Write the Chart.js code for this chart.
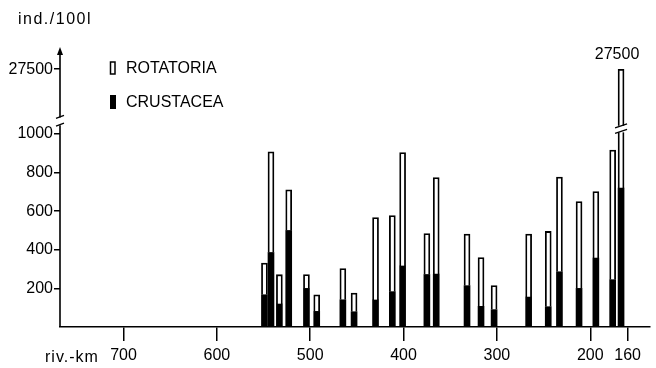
<!DOCTYPE html>
<html>
<head>
<meta charset="utf-8">
<script src="https://cdn.jsdelivr.net/npm/chart.js@4.4.1/dist/chart.umd.min.js"></script>
<style>
  html, body { margin: 0; padding: 0; background: #fff; }
  #wrap { width: 656px; height: 368px; position: relative; }
</style>
</head>
<body>
<div id="wrap"><canvas id="c" width="656" height="368"></canvas></div>
<script>
// ---- data ----
const riverKm   = [549, 542, 533, 523, 504, 493, 465, 453, 430, 412, 401, 375, 365, 332, 317, 303, 266, 245, 233, 212, 194, 176, 167];
const crustacea = [167, 386, 119, 500, 200,  81, 141,  79, 140, 183, 316, 272, 274, 214, 107,  90, 155, 105, 286, 200, 357, 245, 719];
const rotatoria = [164, 521, 152, 210,  72,  86, 162,  97, 427, 394, 587, 212, 500, 267, 253, 125, 326, 390, 490, 450, 344, 671, 26781];
const xTickValues = [700, 600, 500, 400, 300, 200, 160];
const yTickValues = [200, 400, 600, 800, 1000, 27500];
const seriesNames = ['ROTATORIA', 'CRUSTACEA'];

// ---- broken y axis: values above 1000 are compressed ----
const BREAK_LOW = 1000, BREAK_GAP = 50, TOP_VALUE = 27500, TOP_DISPLAY = 1335;
function toDisplay(v) {
  if (v <= BREAK_LOW) return v;
  return BREAK_LOW + BREAK_GAP + (v - BREAK_LOW) / (TOP_VALUE - BREAK_LOW) * (TOP_DISPLAY - BREAK_LOW - BREAK_GAP);
}

const FONT = "'Liberation Sans', Arial, sans-serif";
const FS = 16;

const crustData = riverKm.map((k, i) => ({ x: k, y: [0, crustacea[i]] }));
const rotData = riverKm.map((k, i) => ({ x: k, y: [crustacea[i], toDisplay(crustacea[i] + rotatoria[i])] }));

const decor = {
  id: 'decor',
  afterDraw(chart) {
    const ctx = chart.ctx;
    const xs = chart.scales.x, ys = chart.scales.y;
    const ax = xs.left;
    ctx.save();
    ctx.strokeStyle = '#000';
    ctx.fillStyle = '#000';
    ctx.lineWidth = 1.6;
    // y axis segments
    const y0 = ys.getPixelForValue(0);
    const yb1 = ys.getPixelForValue(BREAK_LOW + 45);
    const yb2 = ys.getPixelForValue(BREAK_LOW + 85);
    const yTop = ys.top;
    ctx.beginPath();
    ctx.moveTo(ax, y0); ctx.lineTo(ax, yb1);
    ctx.moveTo(ax, yb2); ctx.lineTo(ax, yTop + 6);
    ctx.stroke();
    // break slashes on axis
    ctx.lineWidth = 1.3;
    ctx.beginPath();
    ctx.moveTo(ax - 4, yb1 + 1); ctx.lineTo(ax + 4, yb1 - 2);
    ctx.moveTo(ax - 4, yb2 + 1); ctx.lineTo(ax + 4, yb2 - 2);
    ctx.stroke();
    // arrow head
    ctx.beginPath();
    ctx.moveTo(ax, yTop);
    ctx.lineTo(ax - 3, yTop + 8);
    ctx.lineTo(ax + 3, yTop + 8);
    ctx.closePath();
    ctx.fill();

    // break on the tallest bar
    const meta = chart.getDatasetMeta(0);
    const last = meta.data[meta.data.length - 1];
    const bx = last.x, bw = 6;
    const bb1 = ys.getPixelForValue(BREAK_LOW + 8);
    const bb2 = ys.getPixelForValue(BREAK_LOW + 42);
    ctx.fillStyle = '#fff';
    ctx.fillRect(bx - bw / 2 - 2, bb2, bw + 4, bb1 - bb2);
    ctx.strokeStyle = '#000';
    ctx.lineWidth = 1.3;
    ctx.beginPath();
    ctx.moveTo(bx - 6, bb1 + 1); ctx.lineTo(bx + 6, bb1 - 3);
    ctx.moveTo(bx - 6, bb2 + 2); ctx.lineTo(bx + 6, bb2 - 2);
    ctx.stroke();

    // value label above tallest bar
    ctx.fillStyle = '#000';
    ctx.font = FS + 'px ' + FONT;
    ctx.textAlign = 'center';
    ctx.textBaseline = 'middle';
    ctx.fillText(String(TOP_VALUE), bx - 4, last.y - 15);

    // unit title
    ctx.textAlign = 'left';
    try { ctx.letterSpacing = '1.5px'; } catch (e) {}
    ctx.fillText('ind./100l', 18, 20);

    // x axis name
    try { ctx.letterSpacing = '1px'; } catch (e) {}
    ctx.fillText('riv.-km', 45, xs.bottom - 10);
    try { ctx.letterSpacing = '0px'; } catch (e) {}

    // legend
    const lx = 110;
    const ly1 = 68, ly2 = 102;
    ctx.lineWidth = 1.5;
    ctx.strokeRect(lx + 0.5, ly1 - 6, 4.5, 12);
    ctx.fillRect(lx, ly2 - 7, 6, 14);
    ctx.fillText(seriesNames[0], 126, ly1 + 1);
    ctx.fillText(seriesNames[1], 126, ly2 + 1);
    ctx.restore();
  }
};

new Chart(document.getElementById('c'), {
  type: 'bar',
  data: {
    datasets: [
      {
        label: seriesNames[0],
        data: rotData,
        backgroundColor: '#fff',
        borderColor: '#000',
        borderWidth: { top: 1.8, left: 1.8, right: 1.8, bottom: 0 },
        borderSkipped: false,
        barThickness: 6,
        grouped: false,
        order: 2
      },
      {
        label: seriesNames[1],
        data: crustData,
        backgroundColor: '#000',
        borderWidth: 0,
        barThickness: 6,
        grouped: false,
        order: 1
      }
    ]
  },
  plugins: [decor],
  options: {
    responsive: false,
    animation: false,
    layout: { padding: { top: 47, right: 6, left: 0, bottom: 0 } },
    plugins: { legend: { display: false }, tooltip: { enabled: false } },
    scales: {
      x: {
        type: 'linear',
        reverse: true,
        offset: false,
        min: 136,
        max: 768,
        afterBuildTicks: s => { s.ticks = xTickValues.map(v => ({ value: v })); },
        afterFit: s => { s.height = 41; },
        ticks: {
          color: '#000',
          font: { family: FONT, size: FS },
          padding: 5,
          maxRotation: 0,
          autoSkip: false,
          callback: v => String(v)
        },
        grid: {
          display: true,
          offset: false,
          drawOnChartArea: false,
          drawTicks: true,
          tickLength: 14,
          color: '#000',
          lineWidth: 1.5
        },
        border: { display: true, color: '#000', width: 1.6 }
      },
      y: {
        type: 'linear',
        min: 0,
        max: 1450,
        afterBuildTicks: s => { s.ticks = yTickValues.map(v => ({ value: toDisplay(v) })); },
        afterFit: s => { s.width = 60; },
        ticks: {
          color: '#000',
          font: { family: FONT, size: FS },
          padding: 1,
          autoSkip: false,
          callback: v => (v > BREAK_LOW ? String(TOP_VALUE) : String(v))
        },
        grid: {
          display: true,
          drawOnChartArea: false,
          drawTicks: true,
          tickLength: 6,
          color: '#000',
          lineWidth: 1.5
        },
        border: { display: false }
      }
    }
  }
});
</script>
</body>
</html>
